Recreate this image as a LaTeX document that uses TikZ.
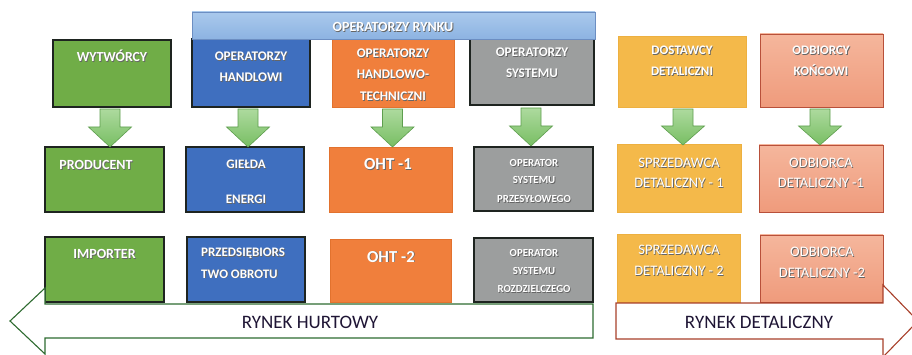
\documentclass[tikz,border=0pt]{standalone}
\usepackage{fontspec}
\setmainfont{Carlito}
\usetikzlibrary{calc}

\definecolor{grnF}{HTML}{70AD47}
\definecolor{bluF}{HTML}{3F6FBF}
\definecolor{orgF}{HTML}{F07F3C}
\definecolor{orgD}{HTML}{E2722E}
\definecolor{gryF}{HTML}{9C9E9E}
\definecolor{ylwF}{HTML}{F4B94A}
\definecolor{ylwD}{HTML}{EDB040}
\definecolor{salT}{HTML}{F5B69C}
\definecolor{salB}{HTML}{EF9B7C}
\definecolor{salD}{HTML}{B8503A}
\definecolor{banT}{HTML}{A9C9EC}
\definecolor{banB}{HTML}{8DB3E2}
\definecolor{banD}{HTML}{6C8EC2}
\definecolor{garT}{HTML}{ADDA9E}
\definecolor{garB}{HTML}{78BE63}
\definecolor{garD}{HTML}{5E9E4E}
\definecolor{hurD}{HTML}{2E6B30}
\definecolor{detD}{HTML}{A8402A}
\definecolor{inkC}{HTML}{1F1535}
\definecolor{edgeK}{HTML}{1E2420}

% white label text with a soft dark drop shadow
\newcommand\sh[1]{\makebox[0pt][l]{\hspace{0.8pt}\raisebox{-0.8pt}{\textcolor{black!60}{#1}}}#1}
% rectangular box from its corners (x1,y1) to (x2,y2), y measured downwards
\newcommand\bx[6]{\node[#1, minimum width={#5-#3}, minimum height={#6-#4}, anchor=north west] (#2) at (#3,#4) {};}
% green block arrow pointing down: x of axis, shaft top, shoulder, tip
\newcommand\gdown[4]{\draw[garrow] ({#1-10},#2) -- ({#1+10},#2) -- ({#1+10},#3) -- ({#1+21.5},#3) -- (#1,#4) -- ({#1-21.5},#3) -- ({#1-10},#3) -- cycle;}

\tikzset{
  box/.style={draw, line width=1.1pt, inner sep=0pt, outer sep=0pt},
  gbox/.style={box, fill=grnF, draw=edgeK},
  bbox/.style={box, fill=bluF, draw=edgeK},
  obox/.style={box, fill=orgF, draw=orgD, line width=0.6pt},
  kbox/.style={box, fill=gryF, draw=edgeK},
  ybox/.style={box, fill=ylwF, draw=ylwD, line width=0.6pt},
  sbox/.style={box, top color=salT, bottom color=salB, draw=salD, line width=0.7pt},
  garrow/.style={draw=garD, line width=0.6pt, top color=garT, bottom color=garB, line join=miter},
  wt/.style={font=\fontsize{#1}{#1}\selectfont\bfseries, text=white, anchor=base, inner sep=0pt},
  wr/.style={font=\fontsize{#1}{#1}\selectfont, text=white, anchor=base, inner sep=0pt},
  big/.style={font=\fontsize{19}{19}\selectfont, text=inkC, anchor=base, inner sep=0pt},
}

\begin{document}
\begin{tikzpicture}[x=1pt, y=-1pt]
\useasboundingbox (0,0) rectangle (912,355);

% --- boxes ---
\bx{gbox}{wyt}{53}{40}{171}{107}
\bx{gbox}{prod}{45}{147}{164}{212}
\bx{gbox}{imp}{45}{237}{164}{302}
\bx{bbox}{oph}{192}{39}{310}{107}
\bx{bbox}{gie}{186}{147}{304}{212}
\bx{bbox}{prz}{187}{237}{305}{302}
\bx{obox}{opt}{332}{39}{454}{107}
\bx{obox}{ohta}{329}{147}{452}{212}
\bx{obox}{ohtb}{330}{239}{451}{302}
\bx{kbox}{ops}{470}{39}{594}{105}
\bx{kbox}{osp}{474}{147}{593}{211}
\bx{kbox}{osd}{474}{238}{593}{302}
\bx{ybox}{dost}{618}{36}{746}{107}
\bx{ybox}{sda}{617}{144}{741}{212}
\bx{ybox}{sdb}{617}{234}{740}{302}
\bx{sbox}{odk}{760}{34}{883}{107}
\bx{sbox}{oda}{759}{145}{883}{212}
\bx{sbox}{odb}{760}{235}{883}{302}

% --- banner over the market operators ---
\node[box, top color=banT, bottom color=banB, draw=banD, line width=0.7pt,
      minimum width=403, minimum height=27, anchor=north west] (ban) at (192,12) {};
\node[wt=14] (bant) at (393,31.5) {\sh{OPERATORZY RYNKU}};

% --- green arrows between the rows ---
\gdown{110}{109}{127}{147}
\gdown{248}{109}{127}{147}
\gdown{392.5}{109}{127}{147}
\gdown{531}{108}{126}{146}
\gdown{683}{109}{126}{145}
\gdown{820}{109}{126}{145}

% --- top row labels ---
\node[wt=13.8] (t1) at (112,61.5) {\sh{WYTWÓRCY}};
\node[wt=13.2] (t2a) at (251,60.5) {\sh{OPERATORZY}};
\node[wt=13.2] (t2b) at (251,81.5) {\sh{HANDLOWI}};
\node[wt=13.2] (t3a) at (393,57.5) {\sh{OPERATORZY}};
\node[wt=13.2] (t3b) at (393,78.5) {\sh{HANDLOWO-}};
\node[wt=13.2] (t3c) at (393,100.5) {\sh{TECHNICZNI}};
\node[wt=13.2] (t4a) at (532,56.5) {\sh{OPERATORZY}};
\node[wt=13.2] (t4b) at (532,77.5) {\sh{SYSTEMU}};
\node[wt=13] (t5a) at (682,55) {\sh{DOSTAWCY}};
\node[wt=13] (t5b) at (682,76) {\sh{DETALICZNI}};
\node[wt=13] (t6a) at (821,55) {\sh{ODBIORCY}};
\node[wt=13] (t6b) at (821,76) {\sh{KOŃCOWI}};

% --- middle row labels ---
\node[wt=14] (m1) at (96,169.5) {\sh{PRODUCENT}};
\node[wt=13] (m2a) at (246,168.5) {\sh{GIEŁDA}};
\node[wt=13] (m2b) at (246,203.5) {\sh{ENERGI}};
\node[wt=16.8] (m3) at (388,169.5) {\sh{OHT -1}};
\node[wt=10.8] (m4a) at (534,166.5) {\sh{OPERATOR}};
\node[wt=10.8] (m4b) at (534,183.5) {\sh{SYSTEMU}};
\node[wt=10.8] (m4c) at (534,202.5) {\sh{PRZESYŁOWEGO}};
\node[wr=14.5] (m5a) at (679,167.5) {\sh{SPRZEDAWCA}};
\node[wr=14.5] (m5b) at (679,187.5) {\sh{DETALICZNY - 1}};
\node[wr=14.5] (m6a) at (821,167.5) {\sh{ODBIORCA}};
\node[wr=14.5] (m6b) at (821,187.5) {\sh{DETALICZNY -1}};

% --- bottom row labels ---
\node[wt=14] (b1) at (104.5,258.5) {\sh{IMPORTER}};
\node[wt=13, anchor=base west] (b2a) at (201,257) {\sh{PRZEDSIĘBIORS}};
\node[wt=13, anchor=base west] (b2b) at (201,278) {\sh{TWO OBROTU}};
\node[wt=16.8] (b3) at (391,262) {\sh{OHT -2}};
\node[wt=10.8] (b4a) at (534,256.5) {\sh{OPERATOR}};
\node[wt=10.8] (b4b) at (534,274.5) {\sh{SYSTEMU}};
\node[wt=10.8] (b4c) at (534,292.5) {\sh{ROZDZIELCZEGO}};
\node[wr=14.5] (b5a) at (679,254.5) {\sh{SPRZEDAWCA}};
\node[wr=14.5] (b5b) at (679,275.5) {\sh{DETALICZNY - 2}};
\node[wr=14.5] (b6a) at (822,256.5) {\sh{ODBIORCA}};
\node[wr=14.5] (b6b) at (822,277.5) {\sh{DETALICZNY -2}};

% --- wholesale and retail market arrows ---
\draw[draw=hurD, fill=white, line width=1.1pt, line join=miter]
  (593,304) -- (45,304) -- (45,288) -- (10,321) -- (45,354) -- (45,338) -- (593,338) -- cycle;
\node[big] (hurt) at (310,328) {RYNEK HURTOWY};
\draw[draw=detD, fill=white, line width=1.1pt, line join=miter]
  (616,303) -- (883,303) -- (883,285) -- (918,321) -- (883,357) -- (883,339) -- (616,339) -- cycle;
\node[big] (det) at (759,328) {RYNEK DETALICZNY};
\end{tikzpicture}
\end{document}
